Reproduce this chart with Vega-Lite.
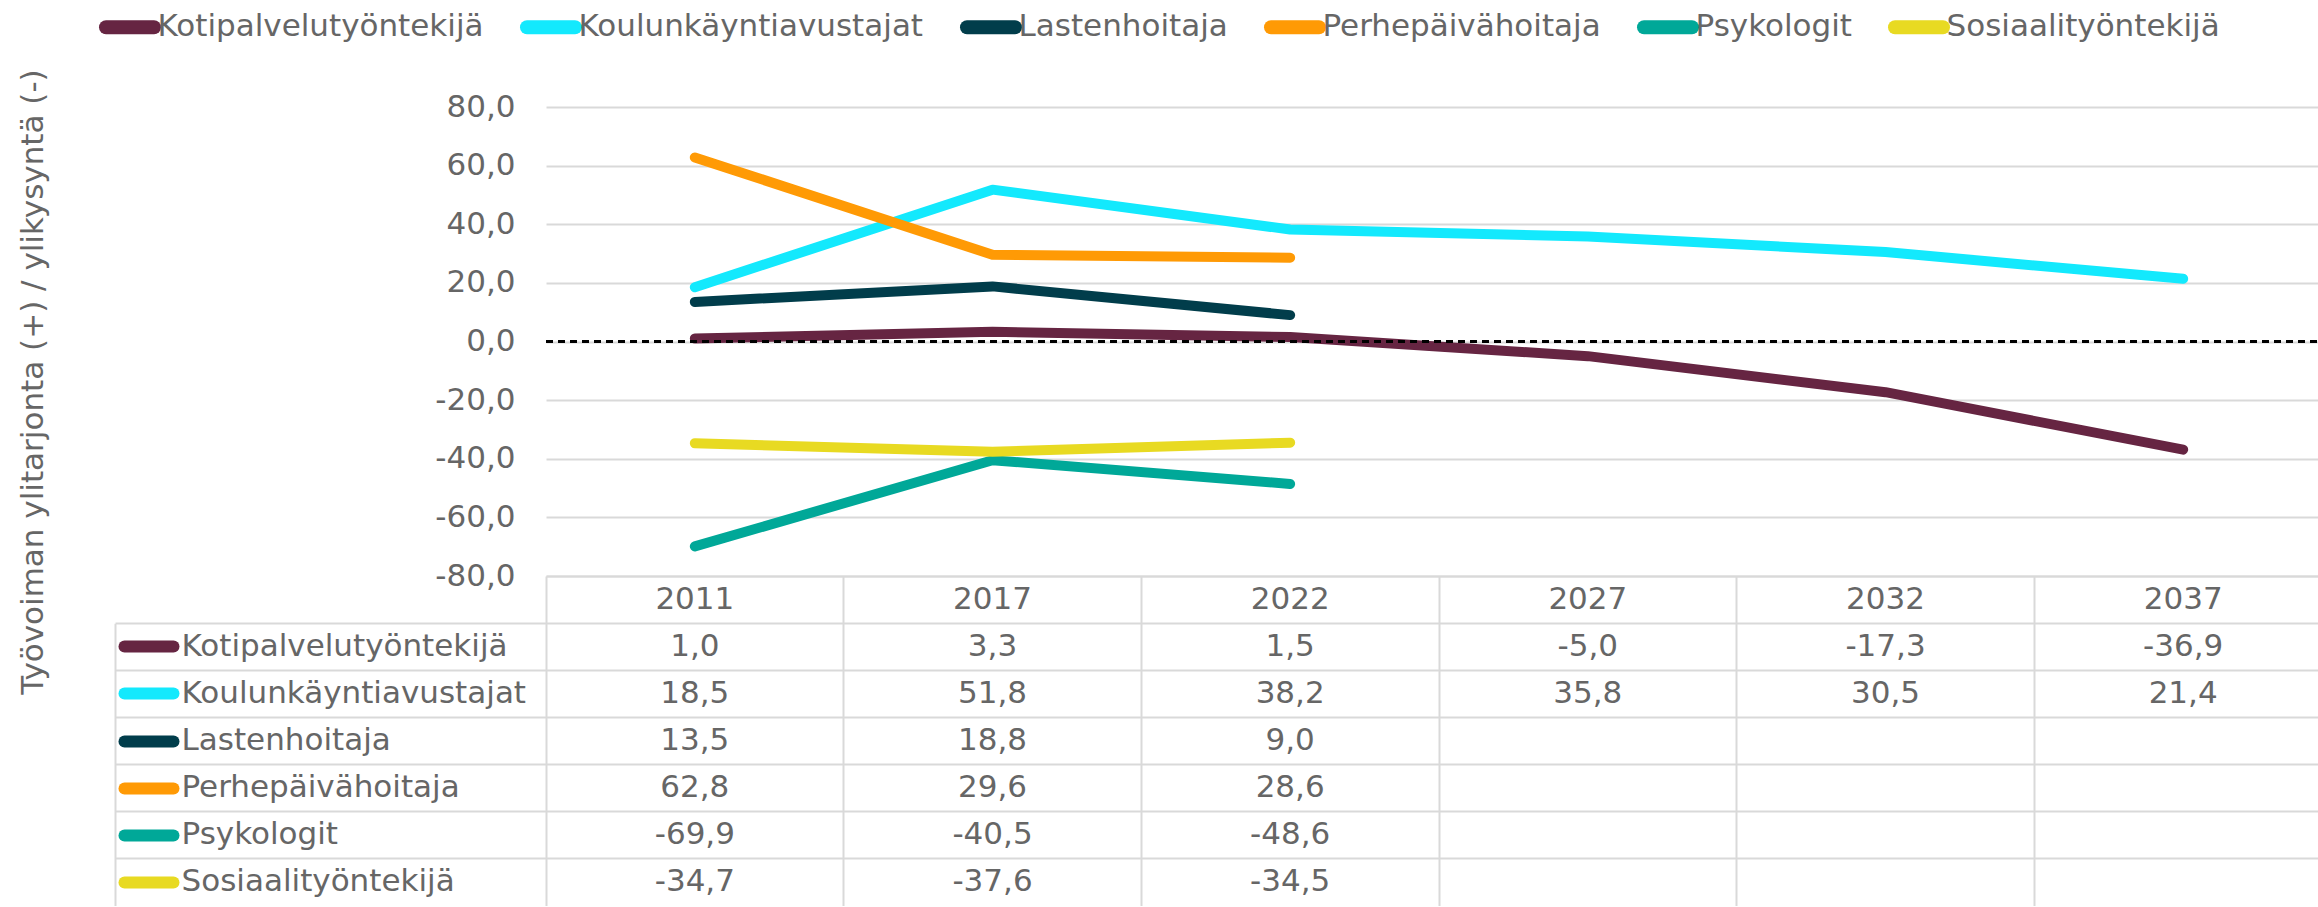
{
  "$schema": "https://vega.github.io/schema/vega-lite/v6.json",
  "padding": {"left": 16, "top": 10, "right": 0, "bottom": 0},
  "background": "white",
  "config": {
    "font": "DejaVu Sans",
    "view": {"stroke": null},
    "locale": {"number": {"decimal": ",", "thousands": "\u00a0", "grouping": [3], "currency": ["", " €"], "minus": "-"}},
    "axis": {"labelFontSize": 31, "labelColor": "#666666", "titleFontSize": 31, "titleColor": "#666666", "titleFontWeight": "normal", "labelFont": "DejaVu Sans", "titleFont": "DejaVu Sans"},
    "legend": {"labelFont": "DejaVu Sans"}
  },
  "datasets": {
    "d": [
      {"series": "Kotipalvelutyöntekijä", "year": 2011, "value": 1.0},
      {"series": "Kotipalvelutyöntekijä", "year": 2017, "value": 3.3},
      {"series": "Kotipalvelutyöntekijä", "year": 2022, "value": 1.5},
      {"series": "Kotipalvelutyöntekijä", "year": 2027, "value": -5.0},
      {"series": "Kotipalvelutyöntekijä", "year": 2032, "value": -17.3},
      {"series": "Kotipalvelutyöntekijä", "year": 2037, "value": -36.9},
      {"series": "Koulunkäyntiavustajat", "year": 2011, "value": 18.5},
      {"series": "Koulunkäyntiavustajat", "year": 2017, "value": 51.8},
      {"series": "Koulunkäyntiavustajat", "year": 2022, "value": 38.2},
      {"series": "Koulunkäyntiavustajat", "year": 2027, "value": 35.8},
      {"series": "Koulunkäyntiavustajat", "year": 2032, "value": 30.5},
      {"series": "Koulunkäyntiavustajat", "year": 2037, "value": 21.4},
      {"series": "Lastenhoitaja", "year": 2011, "value": 13.5},
      {"series": "Lastenhoitaja", "year": 2017, "value": 18.8},
      {"series": "Lastenhoitaja", "year": 2022, "value": 9.0},
      {"series": "Perhepäivähoitaja", "year": 2011, "value": 62.8},
      {"series": "Perhepäivähoitaja", "year": 2017, "value": 29.6},
      {"series": "Perhepäivähoitaja", "year": 2022, "value": 28.6},
      {"series": "Psykologit", "year": 2011, "value": -69.9},
      {"series": "Psykologit", "year": 2017, "value": -40.5},
      {"series": "Psykologit", "year": 2022, "value": -48.6},
      {"series": "Sosiaalityöntekijä", "year": 2011, "value": -34.7},
      {"series": "Sosiaalityöntekijä", "year": 2017, "value": -37.6},
      {"series": "Sosiaalityöntekijä", "year": 2022, "value": -34.5}
    ]
  },
  "spacing": 0,
  "bounds": "flush",
  "vconcat": [
    {
      "width": 1771,
      "height": 469,
      "data": {"name": "d"},
      "layer": [
        {
          "mark": {"type": "line", "strokeWidth": 10, "strokeCap": "round", "strokeJoin": "round"},
          "encoding": {
            "x": {"field": "year", "type": "ordinal", "bandPosition": 0.5, "scale": {"type": "band", "range": [0, 1786], "paddingInner": 0, "paddingOuter": 0}, "axis": null},
            "y": {
              "field": "value", "type": "quantitative",
              "scale": {"domain": [-80, 80], "nice": false, "zero": false},
              "axis": {
                "values": [-80, -60, -40, -20, 0, 20, 40, 60, 80],
                "format": ".1f",
                "grid": true, "gridColor": "#D9D9D9", "gridWidth": 2,
                "domain": false, "ticks": false, "labelPadding": 31,
                "title": "Työvoiman ylitarjonta (+) / ylikysyntä (-)",
                "titleX": -504, "titleY": 274.5, "titleAngle": 270, "titleAlign": "center", "titleBaseline": "alphabetic"
              }
            },
            "color": {
              "field": "series", "type": "nominal",
              "scale": {
                "domain": ["Kotipalvelutyöntekijä", "Koulunkäyntiavustajat", "Lastenhoitaja", "Perhepäivähoitaja", "Psykologit", "Sosiaalityöntekijä"],
                "range": ["#662542", "#13E9FD", "#013D4B", "#FF9A05", "#00A898", "#E8DA22"]
              },
              "legend": {
                "orient": "none", "legendX": -447, "legendY": -96.5, "direction": "horizontal", "title": null,
                "symbolType": "M-2.526,0L2.526,0", "symbolSize": 361, "symbolStrokeWidth": 14, "symbolOffset": 14.5,
                "labelFontSize": 31, "labelColor": "#666666", "labelLimit": 1000, "labelOffset": 11, "columnPadding": 15,
                "encode": {"symbols": {"update": {"strokeCap": {"value": "round"}}}}
              }
            }
          }
        },
        {
          "mark": {"type": "rule", "color": "black", "strokeWidth": 2, "strokeDash": [7, 5]},
          "encoding": {"y": {"datum": 0}}
        }
      ]
    },
    {
      "width": 1771,
      "height": 330,
      "data": {"name": "d"},
      "resolve": {"scale": {"y": "independent"}},
      "layer": [
        {
          "mark": {"type": "text", "fontSize": 31, "color": "#666666"},
          "encoding": {
            "x": {
              "field": "year", "type": "ordinal",
              "scale": {"type": "band", "range": [0, 1786], "paddingInner": 0, "paddingOuter": 0},
              "axis": {"grid": true, "gridColor": "#D9D9D9", "gridWidth": 2, "bandPosition": 0, "labels": false, "ticks": false, "domain": false, "title": null}
            },
            "y": {
              "field": "series", "type": "nominal",
              "scale": {"type": "band", "domain": ["Vuosi", "Kotipalvelutyöntekijä", "Koulunkäyntiavustajat", "Lastenhoitaja", "Perhepäivähoitaja", "Psykologit", "Sosiaalityöntekijä"], "paddingInner": 0, "paddingOuter": 0},
              "axis": {
                "orient": "left", "title": null, "bandPosition": 0,
                "grid": true, "gridColor": "#D9D9D9", "gridWidth": 2,
                "domain": false, "ticks": true, "tickSize": 431, "tickWidth": 2,
                "tickColor": {"condition": {"test": "datum.value === 'Vuosi'", "value": "transparent"}, "value": "#D9D9D9"},
                "labelAlign": "left", "labelPadding": -66, "labelBaseline": "middle",
                "labelExpr": "datum.value === 'Vuosi' ? '' : datum.label", "labelLimit": 1000
              }
            },
            "text": {"field": "value", "type": "quantitative", "format": ".1f"}
          }
        },
        {
          "transform": [{"aggregate": [{"op": "count", "as": "n"}], "groupby": ["year"]}],
          "mark": {"type": "text", "fontSize": 31, "color": "#666666"},
          "encoding": {
            "x": {"field": "year", "type": "ordinal"},
            "y": {"datum": "Vuosi", "type": "nominal", "scale": {"type": "band", "domain": ["Vuosi", "Kotipalvelutyöntekijä", "Koulunkäyntiavustajat", "Lastenhoitaja", "Perhepäivähoitaja", "Psykologit", "Sosiaalityöntekijä"], "paddingInner": 0, "paddingOuter": 0}, "axis": null},
            "text": {"field": "year", "type": "nominal"}
          }
        },
        {
          "mark": {"type": "point", "opacity": 0},
          "encoding": {
            "y": {
              "field": "series", "type": "nominal",
              "scale": {"type": "band", "domain": ["Vuosi", "Kotipalvelutyöntekijä", "Koulunkäyntiavustajat", "Lastenhoitaja", "Perhepäivähoitaja", "Psykologit", "Sosiaalityöntekijä"], "paddingInner": 0, "paddingOuter": 0},
              "axis": {
                "orient": "left", "title": null, "offset": 373, "grid": false, "domain": false, "labels": false,
                "ticks": true, "tickSize": 49, "tickWidth": 12, "tickCap": "round",
                "tickColor": {"condition": [
                  {"test": "datum.value === 'Kotipalvelutyöntekijä'", "value": "#662542"},
                  {"test": "datum.value === 'Koulunkäyntiavustajat'", "value": "#13E9FD"},
                  {"test": "datum.value === 'Lastenhoitaja'", "value": "#013D4B"},
                  {"test": "datum.value === 'Perhepäivähoitaja'", "value": "#FF9A05"},
                  {"test": "datum.value === 'Psykologit'", "value": "#00A898"},
                  {"test": "datum.value === 'Sosiaalityöntekijä'", "value": "#E8DA22"}
                ], "value": "transparent"}
              }
            }
          }
        },
        {
          "mark": {"type": "point", "opacity": 0},
          "encoding": {
            "y": {
              "field": "series", "type": "nominal",
              "scale": {"type": "band", "domain": ["Kotipalvelutyöntekijä", "Koulunkäyntiavustajat", "Lastenhoitaja", "Perhepäivähoitaja", "Psykologit", "Sosiaalityöntekijä"], "range": [47.14, 330], "paddingInner": 0, "paddingOuter": 0},
              "axis": {
                "orient": "left", "title": null, "offset": 431, "grid": false, "labels": false, "ticks": false,
                "domain": true, "domainColor": "#D9D9D9", "domainWidth": 2
              }
            }
          }
        }
      ]
    }
  ]
}
